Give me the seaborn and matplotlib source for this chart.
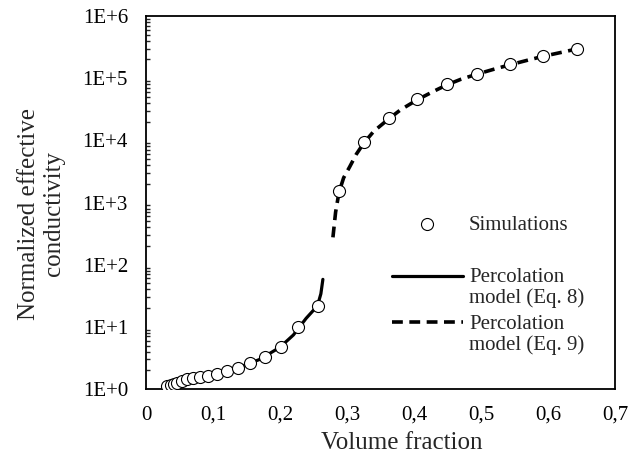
import numpy as np
import matplotlib
matplotlib.use('Agg')
import matplotlib.pyplot as plt
from matplotlib.ticker import FuncFormatter, LogLocator, NullFormatter
import seaborn as sns

# simulation points (volume fraction, normalized effective conductivity)
sim_x = [0.032, 0.037, 0.042, 0.047, 0.053, 0.061, 0.070, 0.080, 0.092, 0.106,
         0.121, 0.137, 0.155, 0.177, 0.201, 0.227, 0.257, 0.288, 0.325, 0.362,
         0.405, 0.449, 0.494, 0.544, 0.593, 0.643]
sim_y = [1.12, 1.16, 1.20, 1.26, 1.36, 1.46, 1.50, 1.56, 1.60, 1.72,
         1.95, 2.17, 2.62, 3.27, 4.8, 10.0, 21.8, 1530, 9500, 22600,
         46800, 79800, 117000, 169000, 227000, 298000]

# percolation model below threshold (Eq. 8)
eq8_x = [0.030, 0.05, 0.08, 0.11, 0.14, 0.17, 0.20, 0.22, 0.239, 0.25, 0.257, 0.261, 0.264]
eq8_y = [1.10, 1.27, 1.52, 1.82, 2.25, 3.0, 4.7, 7.4, 13.7, 18.5, 24, 34, 58]

# percolation model above threshold (Eq. 9)
eq9_x = [0.279, 0.283, 0.288, 0.295, 0.304, 0.314, 0.325, 0.34, 0.362, 0.38, 0.405,
         0.43, 0.449, 0.47, 0.494, 0.52, 0.544, 0.57, 0.593, 0.62, 0.643]
eq9_y = [275, 700, 1450, 2500, 3750, 6000, 9000, 14000, 22000, 31000, 45000,
         62000, 78000, 96000, 116000, 140000, 165000, 195000, 225000, 260000, 295000]

x_ticks = [0, 0.1, 0.2, 0.3, 0.4, 0.5, 0.6, 0.7]

sns.set_theme(style='white')
plt.rcParams['font.family'] = ['Liberation Serif', 'DejaVu Serif']

fig = plt.figure(figsize=(6.3, 4.59), dpi=100)
ax = fig.add_axes([146 / 630, 1 - 389 / 459, 469 / 630, 373 / 459])

sns.lineplot(x=eq8_x, y=eq8_y, ax=ax, color='black', lw=2.3, sort=False,
             label='Percolation\nmodel (Eq. 8)', zorder=2)
sns.lineplot(x=eq9_x, y=eq9_y, ax=ax, color='black', lw=2.6, sort=False,
             linestyle=(0, (3, 1.8)), label='Percolation\nmodel (Eq. 9)', zorder=2)
sns.scatterplot(x=sim_x, y=sim_y, ax=ax, s=75, facecolor='white', edgecolor='black',
                linewidth=0.8, label='Simulations', zorder=3)

ax.set_yscale('log')
ax.set_xlim(0, 0.7)
ax.set_ylim(1, 1e6)
ax.set_xticks(x_ticks)
ax.xaxis.set_major_formatter(FuncFormatter(lambda v, p: ('%g' % round(v, 1)).replace('.', ',')))
ax.yaxis.set_major_locator(LogLocator(base=10, numticks=10))
ax.yaxis.set_minor_locator(LogLocator(base=10, subs=np.arange(2, 10), numticks=20))
ax.yaxis.set_minor_formatter(NullFormatter())
ax.yaxis.set_major_formatter(FuncFormatter(lambda v, p: '1E+%d' % int(round(np.log10(v)))))

ax.tick_params(axis='both', which='major', direction='in', length=5, width=1.2,
               labelsize=15, colors='black')
ax.tick_params(axis='y', which='minor', direction='in', length=3, width=1.0, left=True)
ax.tick_params(axis='x', pad=12)
ax.tick_params(axis='y', pad=13)
for sp in ax.spines.values():
    sp.set_color('black')
    sp.set_linewidth(1.3)

ax.set_xlabel('Volume fraction', fontsize=18)
ax.set_ylabel('Normalized effective\nconductivity', fontsize=18, linespacing=1.2)
ax.xaxis.set_label_coords(0.545, -0.115)
ax.yaxis.set_label_coords(-0.172, 0.47)

handles, labels = ax.get_legend_handles_labels()
hmap = dict(zip(labels, handles))

leg1 = ax.legend([hmap['Simulations']], ['Simulations'], loc='center left',
                 bbox_to_anchor=(0.5245, 0.44), frameon=False, fontsize=15,
                 handlelength=3.4, handletextpad=0.3, borderpad=0, borderaxespad=0)
ax.add_artist(leg1)

lab2 = ['Percolation\nmodel (Eq. 8)', 'Percolation\nmodel (Eq. 9)']
leg2 = ax.legend([hmap[l] for l in lab2], lab2, loc='upper left',
                 bbox_to_anchor=(0.5245, 0.325), frameon=False, fontsize=15,
                 handlelength=3.4, handletextpad=0.3, borderpad=0, borderaxespad=0,
                 labelspacing=0.3)
for t in leg2.get_texts():
    t.set_linespacing(1.12)
# move the legend lines up to the first text line
for h in leg2.legend_handles:
    h.set_ydata(np.asarray(h.get_ydata()) + 0.58 * 15)

fig.savefig('out.png', dpi=100)
